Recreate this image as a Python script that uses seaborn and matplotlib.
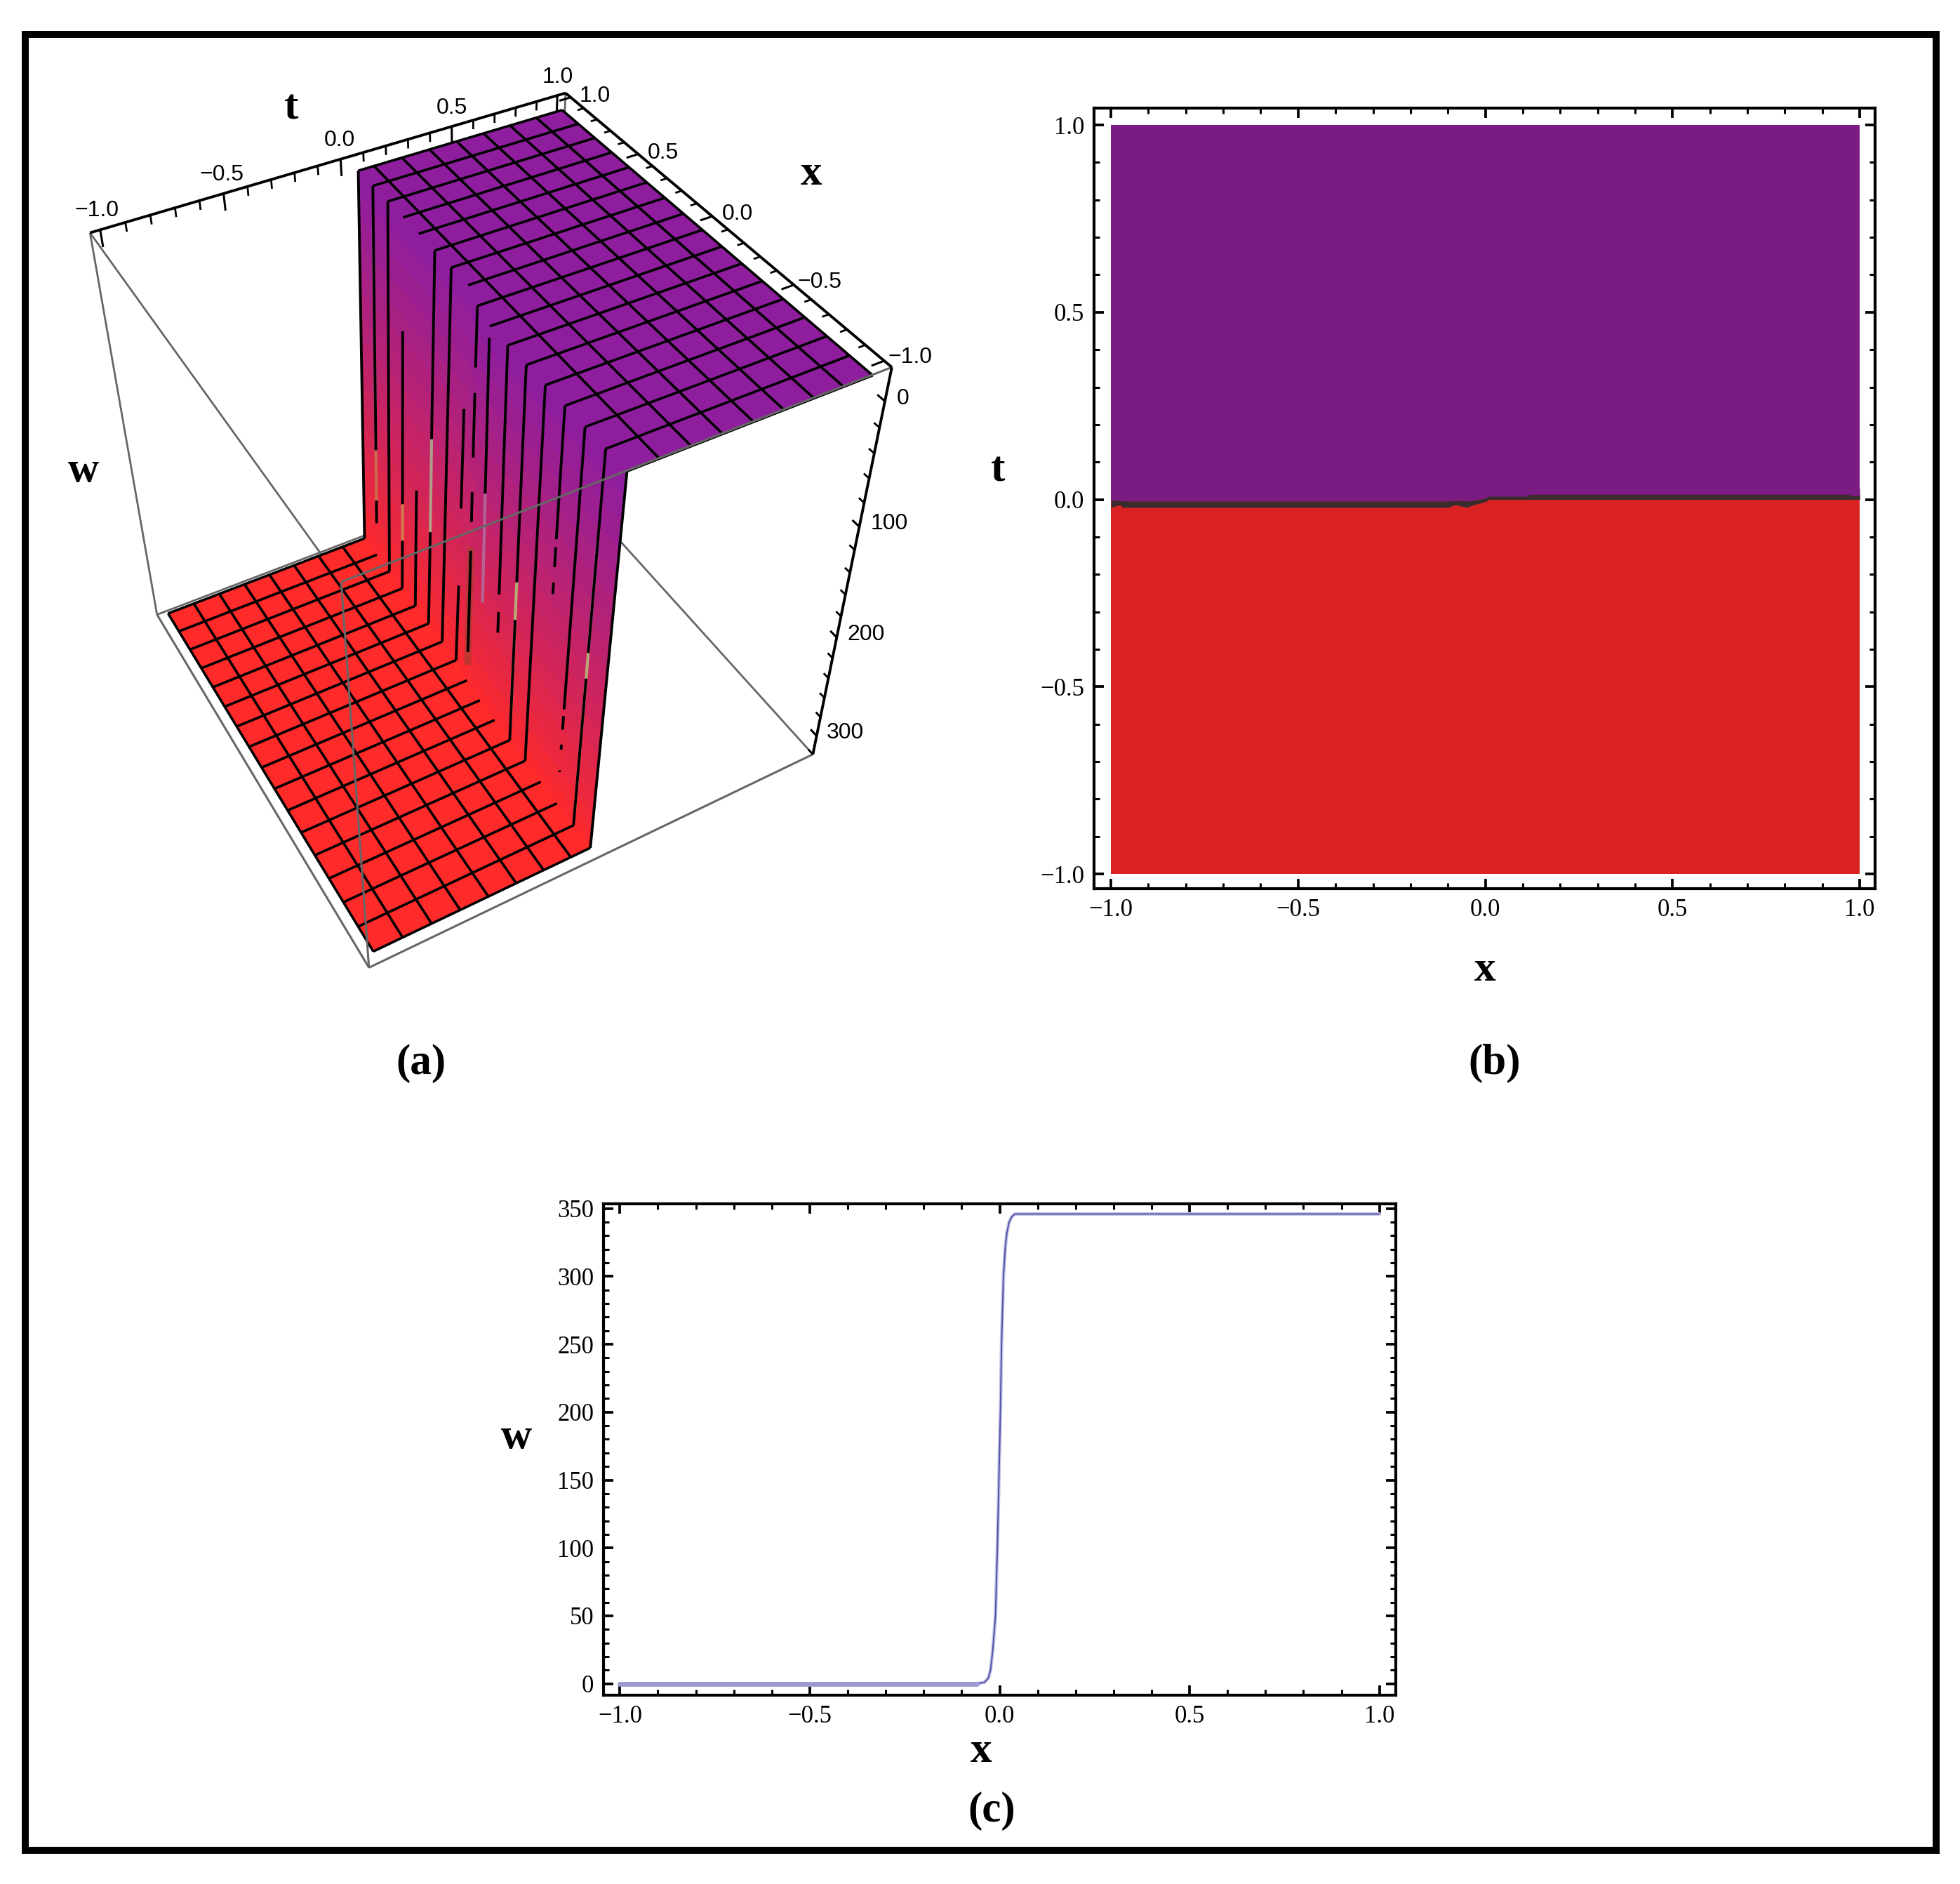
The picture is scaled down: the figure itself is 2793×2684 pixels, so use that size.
import numpy as np
import matplotlib
matplotlib.use('Agg')
import matplotlib.pyplot as plt
import seaborn as sns
from matplotlib.colors import LinearSegmentedColormap
from matplotlib.patches import Rectangle
from matplotlib.ticker import MultipleLocator

W_PX, H_PX = 2793, 2684

# panel (a): surface
w_top, w_bot = -17, 316
x_surf = [-1.0, -0.1, -0.05, 0.0, 0.05, 0.1, 1.0]
wall_mid = [-0.017, -0.017, -0.012, -0.002, 0.008, 0.0225, 0.0225]
wall_half = [0.017, 0.017, 0.020, 0.024, 0.028, 0.0325, 0.0325]
wall_w = [-17, 0, 20, 40, 60, 80, 100, 120, 140, 160, 180, 200, 220, 240, 260, 280, 300, 316]
wall_shape = [1.0, 0.88, 0.76, 0.64, 0.52, 0.4, 0.28, 0.16, 0.05,
              -0.05, -0.16, -0.28, -0.4, -0.52, -0.64, -0.76, -0.88, -1.0]
x_mesh = [0.875, 0.75, 0.625, 0.5, 0.375, 0.25, 0.125, 0.0, -0.125, -0.25, -0.375, -0.5, -0.625, -0.75, -0.875]
t_mesh = [0.875, 0.75, 0.625, 0.5, 0.375, 0.25, 0.125, -0.125, -0.25, -0.375, -0.5, -0.625, -0.75, -0.875]
# black pieces of each mesh line on the wall, as fraction of wall height
wall_segs = [[(0, .68), (.83, .90)], [(0, 1)], [(.27, .74), (.85, 1)], [(.65, 1)],
             [(0, .46), (.72, 1)], [(0, 1)], [(.29, .55), (.77, 1)],
             [(0, .14), (.2, .36), (.45, .53), (.61, .91)],
             [(.025, .40)], [(0, .62), (.67, .73)], [(0, .53), (.635, 1)], [(0, 1)],
             [(0, .31), (.33, .38), (.42, .45)],
             [(0, .71), (.73, .77), (.815, .83), (.895, .90)], [(0, .49), (.56, 1)]]
streaks = [(.875, .10, .68, '#a874a0'), (.875, .68, .83, '#c9784a'), (.625, .74, .85, '#d38a55'),
           (.375, .46, .72, '#a9b48f'), (-.375, .53, .635, '#b8c07a'), (-.375, .635, .95, '#c9a860'),
           (-.875, .2, .49, '#a9a0a0'), (-.875, .49, .56, '#b5c27a'), (-.875, .56, .95, '#c8a860'),
           (-.125, .40, .70, '#b070a0')]
x_ticks3d = [-1.0, -0.5, 0.0, 0.5, 1.0]
tick_minor3d = [-0.9, -0.8, -0.7, -0.6, -0.4, -0.3, -0.2, -0.1, 0.1, 0.2, 0.3, 0.4, 0.6, 0.7, 0.8, 0.9]
w_ticks3d = [0, 100, 200, 300]
w_minor3d = [20, 40, 60, 80, 120, 140, 160, 180, 220, 240, 260, 280, 320]
tick_labels3d = ['\u22121.0', '\u22120.5', '0.0', '0.5', '1.0']

# panel (b): band between the two regions
x_band = [-1.0, -0.975, -0.97, -0.10, -0.08, -0.05, -0.03, 0.0, 0.01, 0.11, 0.12, 0.97, 0.98, 1.0]
t_band_lo = [-0.021, -0.014, -0.021, -0.021, -0.014, -0.021, -0.014, -0.006, 0.0, 0.0, 0.0, 0.0, 0.0, 0.0]
t_band_hi = [-0.002, -0.002, -0.004, -0.004, -0.002, -0.004, -0.002, 0.004, 0.009, 0.009, 0.014, 0.014, 0.009, 0.012]

# panel (c): w against x
x_curve = [-1.0, -0.5, -0.06, -0.04, -0.03, -0.024, -0.018, -0.011, -0.006, -0.002, 0.002, 0.005,
           0.010, 0.015, 0.019, 0.025, 0.032, 0.04, 0.5, 1.0]
w_curve = [0, 0, 0, 1, 4, 10, 25, 50, 100, 150, 200, 250, 300, 322, 332, 340, 344, 346, 346, 346]
xticks = [-1.0, -0.5, 0.0, 0.5, 1.0]
xticklabels = ['\u22121.0', '\u22120.5', '0.0', '0.5', '1.0']
wticks = [0, 50, 100, 150, 200, 250, 300, 350]

sns.set_style('ticks')
plt.rcParams['font.family'] = ['Liberation Serif', 'DejaVu Serif']
plt.rcParams['text.color'] = 'black'
plt.rcParams['xtick.color'] = 'black'
plt.rcParams['ytick.color'] = 'black'

fig = plt.figure(figsize=(W_PX / 100, H_PX / 100), dpi=100, facecolor='white')


def rect(l, t, r, b):
    return [l / W_PX, 1 - b / H_PX, (r - l) / W_PX, (b - t) / H_PX]


def label(px, py, s, size=44):
    fig.text(px / W_PX, 1 - py / H_PX, s, fontsize=size, fontweight='bold', ha='center', va='center')


# ---------- (a) ----------
ax3 = fig.add_axes(rect(25.5, 111.2, 1286.1, 1371.8), projection='3d', computed_zorder=False)
lim = 1.04
wl = (-25, 320)
ax3.set_xlim(-lim, lim)
ax3.set_ylim(-lim, lim)
ax3.set_zlim(*wl)
ax3.view_init(-42.829, -150.554, 180.04)
ax3.set_proj_type('persp', focal_length=0.37)
ax3.set_box_aspect((1, 0.98896, 0.976))
ax3.set_axis_off()
ax3.patch.set_alpha(0)

GRAY = '#666666'


def seg3(xs, ts, ws, color='black', lw=2.6, z=3, **kw):
    ax3.plot(xs, ts, ws, color=color, lw=lw, zorder=z, clip_on=False, solid_capstyle='butt', **kw)


# back edges of the box
for a, b in [((lim, -lim, wl[0]), (-lim, -lim, wl[0])), ((lim, -lim, wl[0]), (lim, -lim, wl[1])),
             ((lim, -lim, wl[1]), (lim, lim, wl[1])), ((lim, lim, wl[0]), (lim, lim, wl[1])),
             ((lim, lim, wl[1]), (-lim, lim, wl[1]))]:
    seg3(*zip(a, b), color=GRAY, lw=2.0, z=1)

w_nodes = np.r_[w_top, wall_w, w_bot]
shape = np.r_[1.0, wall_shape, -1.0]
X = np.tile(np.array(x_surf)[None, :], (len(w_nodes), 1))
Y = np.array(wall_mid)[None, :] + np.array(wall_half)[None, :] * shape[:, None]
Y[0, :] = 1.0
Y[-1, :] = -1.0
Z = np.tile(w_nodes[:, None], (1, len(x_surf)))
cmap = LinearSegmentedColormap.from_list('pr', ['#8F1E9E', '#FF2A2A'])
fc = cmap((Z - w_top) / (w_bot - w_top))
surf = ax3.plot_surface(X, Y, Z, facecolors=fc, rstride=1, cstride=1, shade=False,
                        linewidth=0, antialiased=False, zorder=2)
surf.set_clip_on(False)


def wall_t(x, f):
    w = w_top + f * (w_bot - w_top)
    return np.interp(x, x_surf, wall_mid) + np.interp(x, x_surf, wall_half) * np.interp(w, wall_w, wall_shape)


def wall_line(x, f0, f1, **kw):
    fs = np.array([f0, f1])
    seg3([x, x], [wall_t(x, f0), wall_t(x, f1)], w_top + fs * (w_bot - w_top), **kw)


# streaks on the wall
wall_line(0.0, .6, .95, color='#a83c30', lw=7, z=2.4, alpha=0.7)
for x, f0, f1, c in streaks:
    wall_line(x, f0, f1, color=c, lw=3, z=2.5, alpha=0.85)

# mesh lines with constant x
for x, segs in zip(x_mesh, wall_segs):
    seg3([x, x], [1.0, wall_t(x, 0)], [w_top, w_top])
    seg3([x, x], [-1.0, wall_t(x, 1)], [w_bot, w_bot])
    for f0, f1 in segs:
        wall_line(x, f0, f1, lw=2.8)
# mesh lines with constant t
for t in t_mesh:
    ww = w_top if t > 0 else w_bot
    seg3([-1, 1], [t, t], [ww, ww])
# outline of the surface
for x in (-1.0, 1.0):
    seg3([x, x], [1.0, wall_t(x, 0)], [w_top, w_top])
    seg3([x, x], [wall_t(x, 0), wall_t(x, 1)], [w_top, w_bot], lw=2.8)
    seg3([x, x], [wall_t(x, 1), -1.0], [w_bot, w_bot])
seg3([-1, 1], [1, 1], [w_top, w_top])
seg3([-1, 1], [-1, -1], [w_bot, w_bot])

# front edges of the box
for a, b in [((-lim, -lim, wl[0]), (-lim, lim, wl[0])), ((-lim, -lim, wl[0]), (-lim, -lim, wl[1])),
             ((-lim, -lim, wl[1]), (lim, -lim, wl[1])), ((-lim, -lim, wl[1]), (-lim, lim, wl[1]))]:
    seg3(*zip(a, b), color=GRAY, lw=2.2, z=4)
# edges with ticks
for a, b in [((lim, -lim, wl[0]), (lim, lim, wl[0])), ((lim, lim, wl[0]), (-lim, lim, wl[0])),
             ((-lim, lim, wl[0]), (-lim, lim, wl[1]))]:
    seg3(*zip(a, b), lw=2.8, z=5)

for v, s in zip(x_ticks3d, tick_labels3d):
    seg3([lim, lim], [v, v], [wl[0], wl[0] + 13], lw=2.2, z=5)
    seg3([v, v], [lim, lim - 0.055], [wl[0], wl[0]], lw=2.2, z=5)
    ax3.text(lim, v, wl[0] - 14, s, family='Liberation Sans', fontsize=23, ha='center', va='center')
    ax3.text(v, lim + 0.12, wl[0] + 5, s, family='Liberation Sans', fontsize=23, ha='center', va='center')
for v in tick_minor3d:
    seg3([lim, lim], [v, v], [wl[0], wl[0] + 7], lw=2.0, z=5)
    seg3([v, v], [lim, lim - 0.03], [wl[0], wl[0]], lw=2.0, z=5)
for v in w_ticks3d:
    seg3([-lim, -lim + 0.04], [lim, lim], [v, v], lw=2.2, z=5)
    ax3.text(-lim, lim + 0.055, v + 2, str(v), family='Liberation Sans', fontsize=23, ha='left', va='center')
for v in w_minor3d:
    seg3([-lim, -lim + 0.03], [lim, lim], [v, v], lw=2.0, z=5)


def style_2d(ax):
    ax.tick_params(which='major', direction='in', length=10, width=2.7, top=True, right=True,
                   labelsize=25, pad=10)
    ax.tick_params(which='minor', direction='in', length=6, width=2.2, top=True, right=True)
    for sp in ax.spines.values():
        sp.set_linewidth(3)
        sp.set_color('black')


# ---------- (b) ----------
axb = fig.add_axes(rect(1559, 154, 2672, 1266))
axb.fill_between([-1, 1], [-1, -1], [0.0, 0.0], color='#DA2222', lw=0)
axb.fill_between([-1, 1], [0.0, 0.0], [1, 1], color='#7A1C82', lw=0)
axb.fill_between(x_band, np.minimum(t_band_lo, 0.0), 0.005, color='#DA2222', lw=0)
axb.fill_between(x_band, t_band_lo, t_band_hi, color='#3A2B2D', lw=0)
axb.fill_between(x_band, t_band_hi, 0.03, color='#7A1C82', lw=0)
axb.set_xlim(-1.045, 1.041)
axb.set_ylim(-1.039, 1.045)
axb.set_xticks(xticks, xticklabels)
axb.set_yticks(xticks, xticklabels)
axb.xaxis.set_minor_locator(MultipleLocator(0.1))
axb.yaxis.set_minor_locator(MultipleLocator(0.1))
style_2d(axb)

# ---------- (c) ----------
axc = fig.add_axes(rect(860, 1715, 1989, 2415))
sns.lineplot(x=x_curve, y=w_curve, ax=axc, color='#C4C4E6', lw=3.6, estimator=None, sort=False)
sns.lineplot(x=x_curve, y=w_curve, ax=axc, color='#5353A8', lw=1.4, estimator=None, sort=False)
sns.lineplot(x=x_curve[:3], y=w_curve[:3], ax=axc, color='#9C9CD0', lw=5, estimator=None, sort=False)
axc.set_xlim(-1.043, 1.043)
axc.set_ylim(-8.5, 353.5)
axc.set_xticks(xticks, xticklabels)
axc.set_yticks(wticks)
axc.xaxis.set_minor_locator(MultipleLocator(0.1))
axc.yaxis.set_minor_locator(MultipleLocator(10))
style_2d(axc)

# axis names and panel letters
label(415, 155, 't')
label(1156, 248, 'x')
label(119, 671, 'w')
label(600, 1515, '(a)')
label(2130, 1515, '(b)')
label(1422, 670, 't')
label(2116, 1382, 'x')
label(736, 2048, 'w')
label(1398, 2495, 'x')
label(1413, 2580, '(c)')

# outer frame
fig.add_artist(Rectangle((35.5 / W_PX, 1 - 2636 / H_PX), (2759 - 35.5) / W_PX, (2636 - 48.5) / H_PX,
                         transform=fig.transFigure, fill=False, ec='black', lw=7.2))

fig.savefig('out.png', dpi=100)
